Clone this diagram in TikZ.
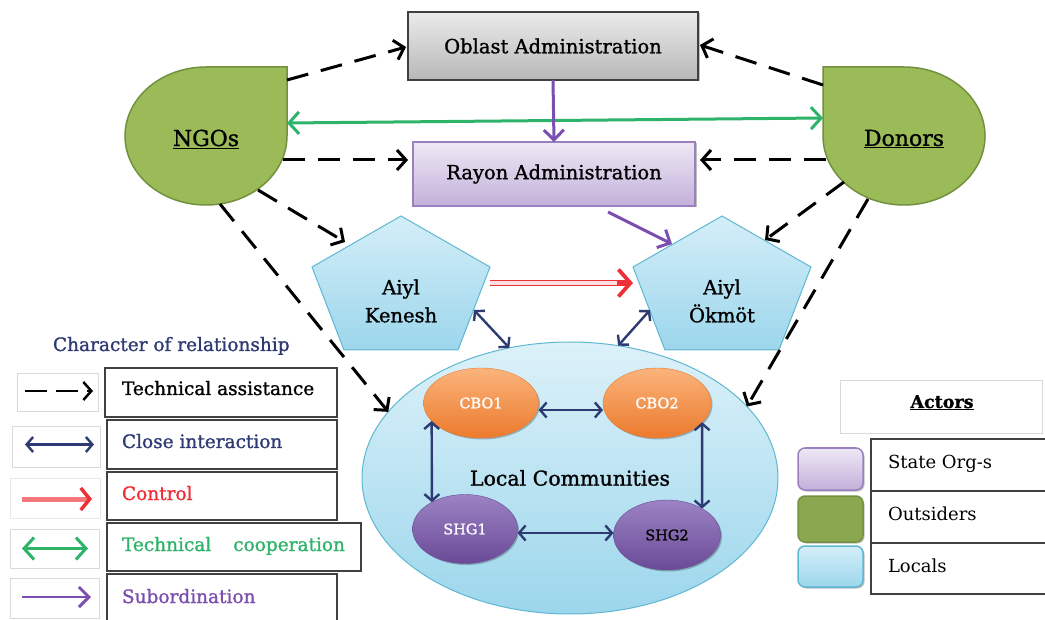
\documentclass[tikz,border=0pt]{standalone}
\usepackage{fontspec}
\setmainfont{DejaVu Serif}[FakeBold=1.2]
\newfontfamily\plainfont{DejaVu Serif}
\usetikzlibrary{arrows.meta,calc,shapes.geometric,shadows}
\definecolor{ngreen}{HTML}{9BBB59}
\definecolor{ngreenb}{HTML}{73903F}
\definecolor{lblue1}{HTML}{D4EEF8}
\definecolor{lblue2}{HTML}{9CD6EC}
\definecolor{lblueb}{HTML}{5FB7D1}
\definecolor{navy}{HTML}{2E3B73}
\definecolor{cred}{HTML}{EE2F36}
\definecolor{cgreen}{HTML}{2DB36A}
\definecolor{cpurple}{HTML}{7B4FAE}
\definecolor{orange1}{HTML}{FAB47C}
\definecolor{orange2}{HTML}{EC7A2C}
\definecolor{purp1}{HTML}{9C83C4}
\definecolor{purp2}{HTML}{6A4A97}
\definecolor{lav1}{HTML}{EEE8F5}
\definecolor{lav2}{HTML}{C3B0DA}
\definecolor{lavb}{HTML}{9A80BE}
\definecolor{gray1}{HTML}{EBEBEB}
\definecolor{gray2}{HTML}{B8B8B8}
\definecolor{boxgray}{HTML}{404040}
\definecolor{lightframe}{HTML}{D9D9D9}
\newcommand\fsz[1]{\fontsize{#1pt}{#1pt}\selectfont}
\begin{document}
\begin{tikzpicture}[x=1pt,y=-1pt,
  every node/.style={inner sep=0pt, outer sep=0pt},
  shadowed/.style={drop shadow={shadow xshift=1.5pt, shadow yshift=-1.5pt, fill=black, opacity=0.25}},
  adminbox/.style={draw, line width=1.3pt, font=\fsz{19.5}, shadowed},
  outsider/.style={fill=ngreen, draw=ngreenb, line width=1.5pt},
  pent/.style={top color=lblue1, bottom color=lblue2, draw=lblueb, line width=1pt},
  grp/.style={ellipse, font=\fsz{14.5}, shadowed},
  cbo/.style={grp, top color=orange1, bottom color=orange2, draw=orange2, text=white},
  shg/.style={grp, top color=purp1, bottom color=purp2, draw=purp2},
  ta/.style={draw=black, line width=3pt, dash pattern=on 22pt off 13pt,
    -{Straight Barb[length=9pt,width=20pt,line width=3pt]}},
  closeint/.style={draw=navy, line width=2.4pt,
    {Straight Barb[length=6.5pt,width=15pt,line width=2.4pt]}-{Straight Barb[length=6.5pt,width=15pt,line width=2.4pt]}},
  coop/.style={draw=cgreen, line width=3pt,
    {Straight Barb[length=10pt,width=22pt,line width=3pt]}-{Straight Barb[length=10pt,width=22pt,line width=3pt]}},
  subord/.style={draw=cpurple, line width=3pt,
    -{Straight Barb[length=10pt,width=20pt,line width=3pt]}},
  ctrl/.style={draw=cred, line width=6.5pt,
    -{Straight Barb[length=12pt,width=27pt,line width=3.8pt]},
    postaction={draw=cred!15, line width=3.2pt, arrows=-, shorten >=16pt}},
  symbox/.style={draw=lightframe, line width=0.8pt, anchor=north west},
  txtbox/.style={draw=boxgray, line width=1.3pt, anchor=north west},
  legtxt/.style={anchor=base west, font=\fsz{18.5}},
  swatch/.style={rounded corners=7pt, line width=1.5pt, minimum width=65pt}
]
\useasboundingbox (0,0) rectangle (1045,620);

% ---------- state organisations ----------
\node[adminbox, draw=boxgray, top color=gray1, bottom color=gray2,
      minimum width=290pt, minimum height=68pt] (oblast) at (553,46) {Oblast Administration};
\node[adminbox, draw=lavb, top color=lav1, bottom color=lav2,
      minimum width=282pt, minimum height=64pt] (rayon) at (554,174) {Rayon Administration};

% ---------- outsiders ----------
\node[minimum width=162pt, minimum height=138pt] (ngo) at (206,136) {};
\path[outsider] (ngo.north east) -- (ngo.east)
   arc[start angle=0, end angle=270, x radius=81, y radius=69] -- cycle;
\node[font=\fsz{22}] (ngot) at (206,139) {\underline{NGOs}};

\node[minimum width=162pt, minimum height=138pt] (donor) at (904,136) {};
\path[outsider] (donor.north west) -- (donor.west)
   arc[start angle=180, end angle=-90, x radius=81, y radius=69] -- cycle;
\node[font=\fsz{22}] (donort) at (904,139) {\underline{Donors}};

% ---------- locals: pentagons ----------
\node[minimum width=178pt, minimum height=134pt] (kenesh) at (401,283) {};
\path[pent] (kenesh.north) -- ($(kenesh.north east)+(0,51)$) -- ($(kenesh.south east)+(-32,0)$)
   -- ($(kenesh.south west)+(32,0)$) -- ($(kenesh.north west)+(0,51)$) -- cycle;
\node[font=\fontsize{19.5pt}{28pt}\selectfont, align=center] (kenesht) at (401,301) {Aiyl\\Kenesh};

\node[minimum width=178pt, minimum height=134pt] (okmot) at (722,283) {};
\path[pent] (okmot.north) -- ($(okmot.north east)+(0,51)$) -- ($(okmot.south east)+(-32,0)$)
   -- ($(okmot.south west)+(32,0)$) -- ($(okmot.north west)+(0,51)$) -- cycle;
\node[font=\fontsize{19.5pt}{28pt}\selectfont, align=center] (okmott) at (722,301) {Aiyl\\Ökmöt};

% ---------- local communities ----------
\node[ellipse, draw=lblueb, line width=1pt, top color=lblue1!80!white, bottom color=lblue2,
      minimum width=416pt, minimum height=272pt, font=\fsz{20.5}] (local) at (570,478) {Local Communities};
\node[cbo, minimum width=115pt, minimum height=70pt] (cbo1) at (481,403) {CBO1};
\node[cbo, minimum width=108pt, minimum height=70pt] (cbo2) at (657,403) {CBO2};
\node[shg, text=white, minimum width=105pt, minimum height=69pt] (shg1) at (465,529) {SHG1};
\node[shg, text=black, minimum width=107pt, minimum height=70pt] (shg2) at (667,535) {SHG2};

% ---------- connectors ----------
\draw[ta] ($(ngo.north east)+(0,13)$) -- ($(oblast.west)+(-2,1)$);
\draw[ta] ($(donor.north west)+(0,18)$) -- ($(oblast.east)+(2,-1)$);
\draw[ta] ($(ngo.east)+(-4,24)$) -- ($(rayon.west)+(-5,-14)$);
\draw[ta] ($(donor.west)+(3,24)$) -- ($(rayon.east)+(5,-14)$);
\draw[ta] ($(ngo.center)+(52,54)$) -- ($(kenesh.north)+(-56,26)$);
\draw[ta] ($(donor.center)+(-60,46)$) -- ($(okmot.north)+(43,24)$);
\draw[ta] ($(ngo.south)+(14,-1)$) -- (local.160);
\draw[ta] ($(donor.south)+(-36,-6)$) -- (local.22);

\draw[coop] ($(ngo.east)+(0,-13)$) -- ($(donor.west)+(0,-18)$);
\draw[subord] (oblast.south) -- (rayon.north);
\draw[subord] ($(rayon.south)+(54,6)$) -- ($(okmot.north)+(-50,28)$);
\draw[ctrl] (kenesh.east) -- (okmot.west);

\draw[closeint] ($(kenesh.east)+(-16,27)$) -- (local.115);
\draw[closeint] ($(okmot.west)+(17,27)$) -- (local.70);
\draw[closeint] ($(cbo1.east)+(0,7)$) -- ($(cbo2.west)+(0,7)$);
\draw[closeint] (cbo1.200) -- (shg1.141);
\draw[closeint] (cbo2.337) -- (shg2.37);
\draw[closeint] ($(shg1.east)+(0,4)$) -- ($(shg2.west)+(0,-2)$);

% ---------- legend: character of relationship ----------
\node[legtxt, text=navy] (legtitle) at (53,351) {Character of relationship};

\node[symbox, minimum width=81pt, minimum height=38pt] (s1) at (17,373) {};
\node[symbox, minimum width=88pt, minimum height=41pt] (s2) at (12,426) {};
\node[symbox, draw=lightframe!60, minimum width=90pt, minimum height=40pt] (s3) at (10,478) {};
\node[symbox, minimum width=89pt, minimum height=39pt] (s4) at (10,529) {};
\node[symbox, minimum width=89pt, minimum height=40pt] (s5) at (10,578) {};

\node[txtbox, minimum width=232pt, minimum height=49pt] (b1) at (105,368) {};
\node[txtbox, minimum width=230pt, minimum height=49pt] (b2) at (107,420) {};
\node[txtbox, minimum width=230pt, minimum height=48pt] (b3) at (107,472) {};
\node[txtbox, minimum width=254pt, minimum height=48pt] (b4) at (107,523) {};
\node[txtbox, minimum width=230pt, minimum height=52pt] (b5) at (107,574) {};

\node[legtxt] (t1) at (122,395) {Technical assistance};
\node[legtxt, text=navy] (t2) at (122,448) {Close interaction};
\node[legtxt, text=cred] (t3) at (122,500) {Control};
\node[legtxt, text=cgreen] (t4) at (122,551) {Technical\hspace{22pt}cooperation};
\node[legtxt, text=cpurple] (t5) at (122,603) {Subordination};

\draw[ta, line width=2.5pt, dash pattern=on 22pt off 9pt,
      -{Straight Barb[length=8pt,width=18pt,line width=2.5pt]}] ($(s1.west)+(8,-1)$) -- ($(s1.east)+(-5,-1)$);
\draw[closeint] ($(s2.west)+(13,-2)$) -- ($(s2.east)+(-6,-2)$);
\draw[draw=cred!65, line width=5pt, -{Straight Barb[length=9pt,width=22pt,line width=3.5pt,color=cred]}]
      ($(s3.west)+(12,1)$) -- ($(s3.east)+(-8,1)$);
\draw[coop, line width=2.5pt] ($(s4.west)+(12,0)$) -- ($(s4.east)+(-11,0)$);
\draw[subord, line width=2.5pt] ($(s5.west)+(12,-1)$) -- ($(s5.east)+(-8,-1)$);

% ---------- legend: actors ----------
\node[symbox, minimum width=202pt, minimum height=53pt] (actbox) at (840,380) {};
\node[anchor=base, font=\bfseries\fsz{17.5}] (acttitle) at (942,408) {\underline{Actors}};

\node[txtbox, minimum width=185pt, minimum height=52pt] (r1) at (871,439) {};
\node[txtbox, minimum width=185pt, minimum height=52pt] (r2) at (871,491) {};
\node[txtbox, minimum width=185pt, minimum height=51pt] (r3) at (871,543) {};

\node[swatch, draw=lavb, top color=lav1, bottom color=lav2, minimum height=42pt, shadowed] (w1) at (830.5,469) {};
\node[swatch, draw=ngreenb, fill=ngreen!90!black, minimum height=46pt, shadowed] (w2) at (830.5,519) {};
\node[swatch, draw=lblueb, top color=lblue1, bottom color=lblue2, minimum height=41pt, shadowed] (w3) at (830.5,566.5) {};

\node[legtxt, font=\plainfont\fsz{18}] (a1) at (888,468) {State Org-s};
\node[legtxt, font=\plainfont\fsz{18}] (a2) at (888,520) {Outsiders};
\node[legtxt, font=\plainfont\fsz{18}] (a3) at (888,572) {Locals};
\end{tikzpicture}
\end{document}
